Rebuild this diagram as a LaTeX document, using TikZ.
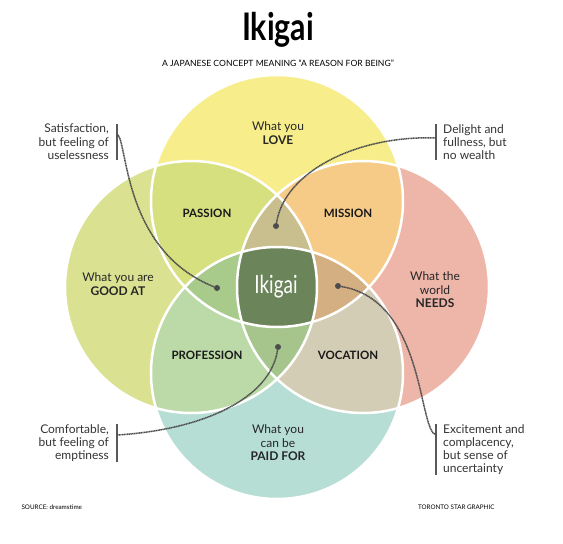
\documentclass[tikz,border=0pt]{standalone}
\usepackage{fontspec}
\setmainfont{Lato}
\usetikzlibrary{positioning}

\definecolor{lovecol}{HTML}{F7EE8B}
\definecolor{goodcol}{HTML}{DAE291}
\definecolor{needscol}{HTML}{EEB5A9}
\definecolor{paidcol}{HTML}{B6DED5}
\definecolor{passioncol}{HTML}{D7E07E}
\definecolor{missioncol}{HTML}{F6CB88}
\definecolor{professioncol}{HTML}{BCD9A8}
\definecolor{vocationcol}{HTML}{D4CDB6}
\definecolor{delightcol}{HTML}{C9BE8D}
\definecolor{satisfcol}{HTML}{A8CA8B}
\definecolor{excitecol}{HTML}{D4AF82}
\definecolor{comfortcol}{HTML}{A6C58D}
\definecolor{ikigaicol}{HTML}{6B845A}

\begin{document}
\begin{tikzpicture}[x=1pt, y=-1pt,
  circtext/.style={align=center, font=\fontsize{12}{13.5}\selectfont, text=black!85},
  zonetext/.style={font=\fontsize{11.5}{13}\selectfont\bfseries, text=black!90},
  note/.style={inner sep=0pt, font=\fontsize{12}{13.3}\selectfont, text=black!80},
  notebar/.style={line width=1.6pt, color=black!65},
  leader/.style={dash pattern=on 1.2pt off 0.5pt, line width=1.5pt, color=black!70},
  leaddot/.style={circle, fill=black!70, inner sep=0pt, minimum size=6pt}]

\useasboundingbox (0,0) rectangle (563,544);

% the four circles
\def\rad{126pt}
\def\love{(277,201) circle (\rad)}
\def\good{(191,287) circle (\rad)}
\def\needs{(363,287) circle (\rad)}
\def\paid{(277,373) circle (\rad)}

\fill[lovecol] \love;
\fill[goodcol] \good;
\fill[needscol] \needs;
\fill[paidcol] \paid;

% overlaps of two
\begin{scope}
  \clip \love;
  \fill[passioncol] \good;
  \fill[missioncol] \needs;
\end{scope}
\begin{scope}
  \clip \paid;
  \fill[professioncol] \good;
  \fill[vocationcol] \needs;
\end{scope}

% overlaps of three
\begin{scope}
  \clip \love; \clip \good;
  \fill[delightcol] \needs;
  \fill[satisfcol] \paid;
\end{scope}
\begin{scope}
  \clip \paid; \clip \needs;
  \fill[excitecol] \love;
  \fill[comfortcol] \good;
\end{scope}

% all four
\begin{scope}
  \clip \love; \clip \good; \clip \needs;
  \fill[ikigaicol] \paid;
\end{scope}

\foreach \c in {\love,\good,\needs,\paid}
  \draw[white, line width=2.5pt] \c;

% title
\node[font=\fontsize{38}{38}\selectfont\bfseries] (title) at (278,30) {\scalebox{0.8}[1]{Ikigai}};
\node[font=\fontsize{8.6}{8.6}\selectfont, below=5pt of title] (subtitle)
  {A JAPANESE CONCEPT MEANING “A REASON FOR BEING”};

% circle texts
\node[circtext] (love) at (278,133) {What you\\\textbf{LOVE}};
\node[circtext] (good) at (118,284) {What you are\\\textbf{GOOD AT}};
\node[circtext] (needs) at (435,290) {What the\\world\\\textbf{NEEDS}};
\node[circtext] (paid) at (278,443) {What you\\can be\\\textbf{PAID FOR}};

\node[zonetext] (passion) at (207,213) {PASSION};
\node[zonetext] (mission) at (348,213) {MISSION};
\node[zonetext] (profession) at (207,355) {PROFESSION};
\node[zonetext] (vocation) at (348,355) {VOCATION};

\node[text=white, font=\fontsize{25}{25}\selectfont] (ikigai) at (276,287) {\scalebox{0.76}[1]{Ikigai}};

% notes
\node[note, align=right, anchor=north east] (satisfaction) at (109,124)
  {Satisfaction,\\but feeling of\\uselessness};
\node[note, align=left, anchor=north west] (delight) at (443,124)
  {Delight and\\fullness, but\\no wealth};
\node[note, align=left, anchor=north west] (excitement) at (443,424)
  {Excitement and\\complacency,\\but sense of\\uncertainty};
\node[note, align=right, anchor=north east] (comfortable) at (109,424)
  {Comfortable,\\but feeling of\\emptiness};

\draw[notebar] ([xshift=8pt]satisfaction.north east) -- ([xshift=8pt]satisfaction.south east);
\draw[notebar] ([xshift=-7pt]delight.north west) -- ([xshift=-7pt]delight.south west);
\draw[notebar] ([xshift=-7pt]excitement.north west) -- ([xshift=-7pt]excitement.south west);
\draw[notebar] ([xshift=8pt]comfortable.north east) -- ([xshift=8pt]comfortable.south east);

\node[leaddot] (dotsatisfaction) at (217,288) {};
\node[leaddot] (dotdelight) at (276,226) {};
\node[leaddot] (dotexcitement) at (338,286) {};
\node[leaddot] (dotcomfortable) at (278,347) {};

\draw[leader] ([xshift=8pt,yshift=-10pt]satisfaction.north east)
  .. controls (128,140) and (122,250) .. (dotsatisfaction);
\draw[leader] ([xshift=-7pt,yshift=-14pt]delight.north west)
  .. controls (360,135) and (285,170) .. (dotdelight);
\draw[leader] ([xshift=-7pt,yshift=-11pt]excitement.north west)
  .. controls (418,430) and (425,300) .. (dotexcitement);
\draw[leader] ([xshift=8pt,yshift=-11pt]comfortable.north east)
  .. controls (200,430) and (270,400) .. (dotcomfortable);

% footer
\node[font=\fontsize{6.3}{6.3}\selectfont, anchor=west] (source) at (18,507) {SOURCE: dreamstime};
\node[font=\fontsize{6.3}{6.3}\selectfont, anchor=east] (credit) at (498,507) {TORONTO STAR GRAPHIC};
\end{tikzpicture}
\end{document}
